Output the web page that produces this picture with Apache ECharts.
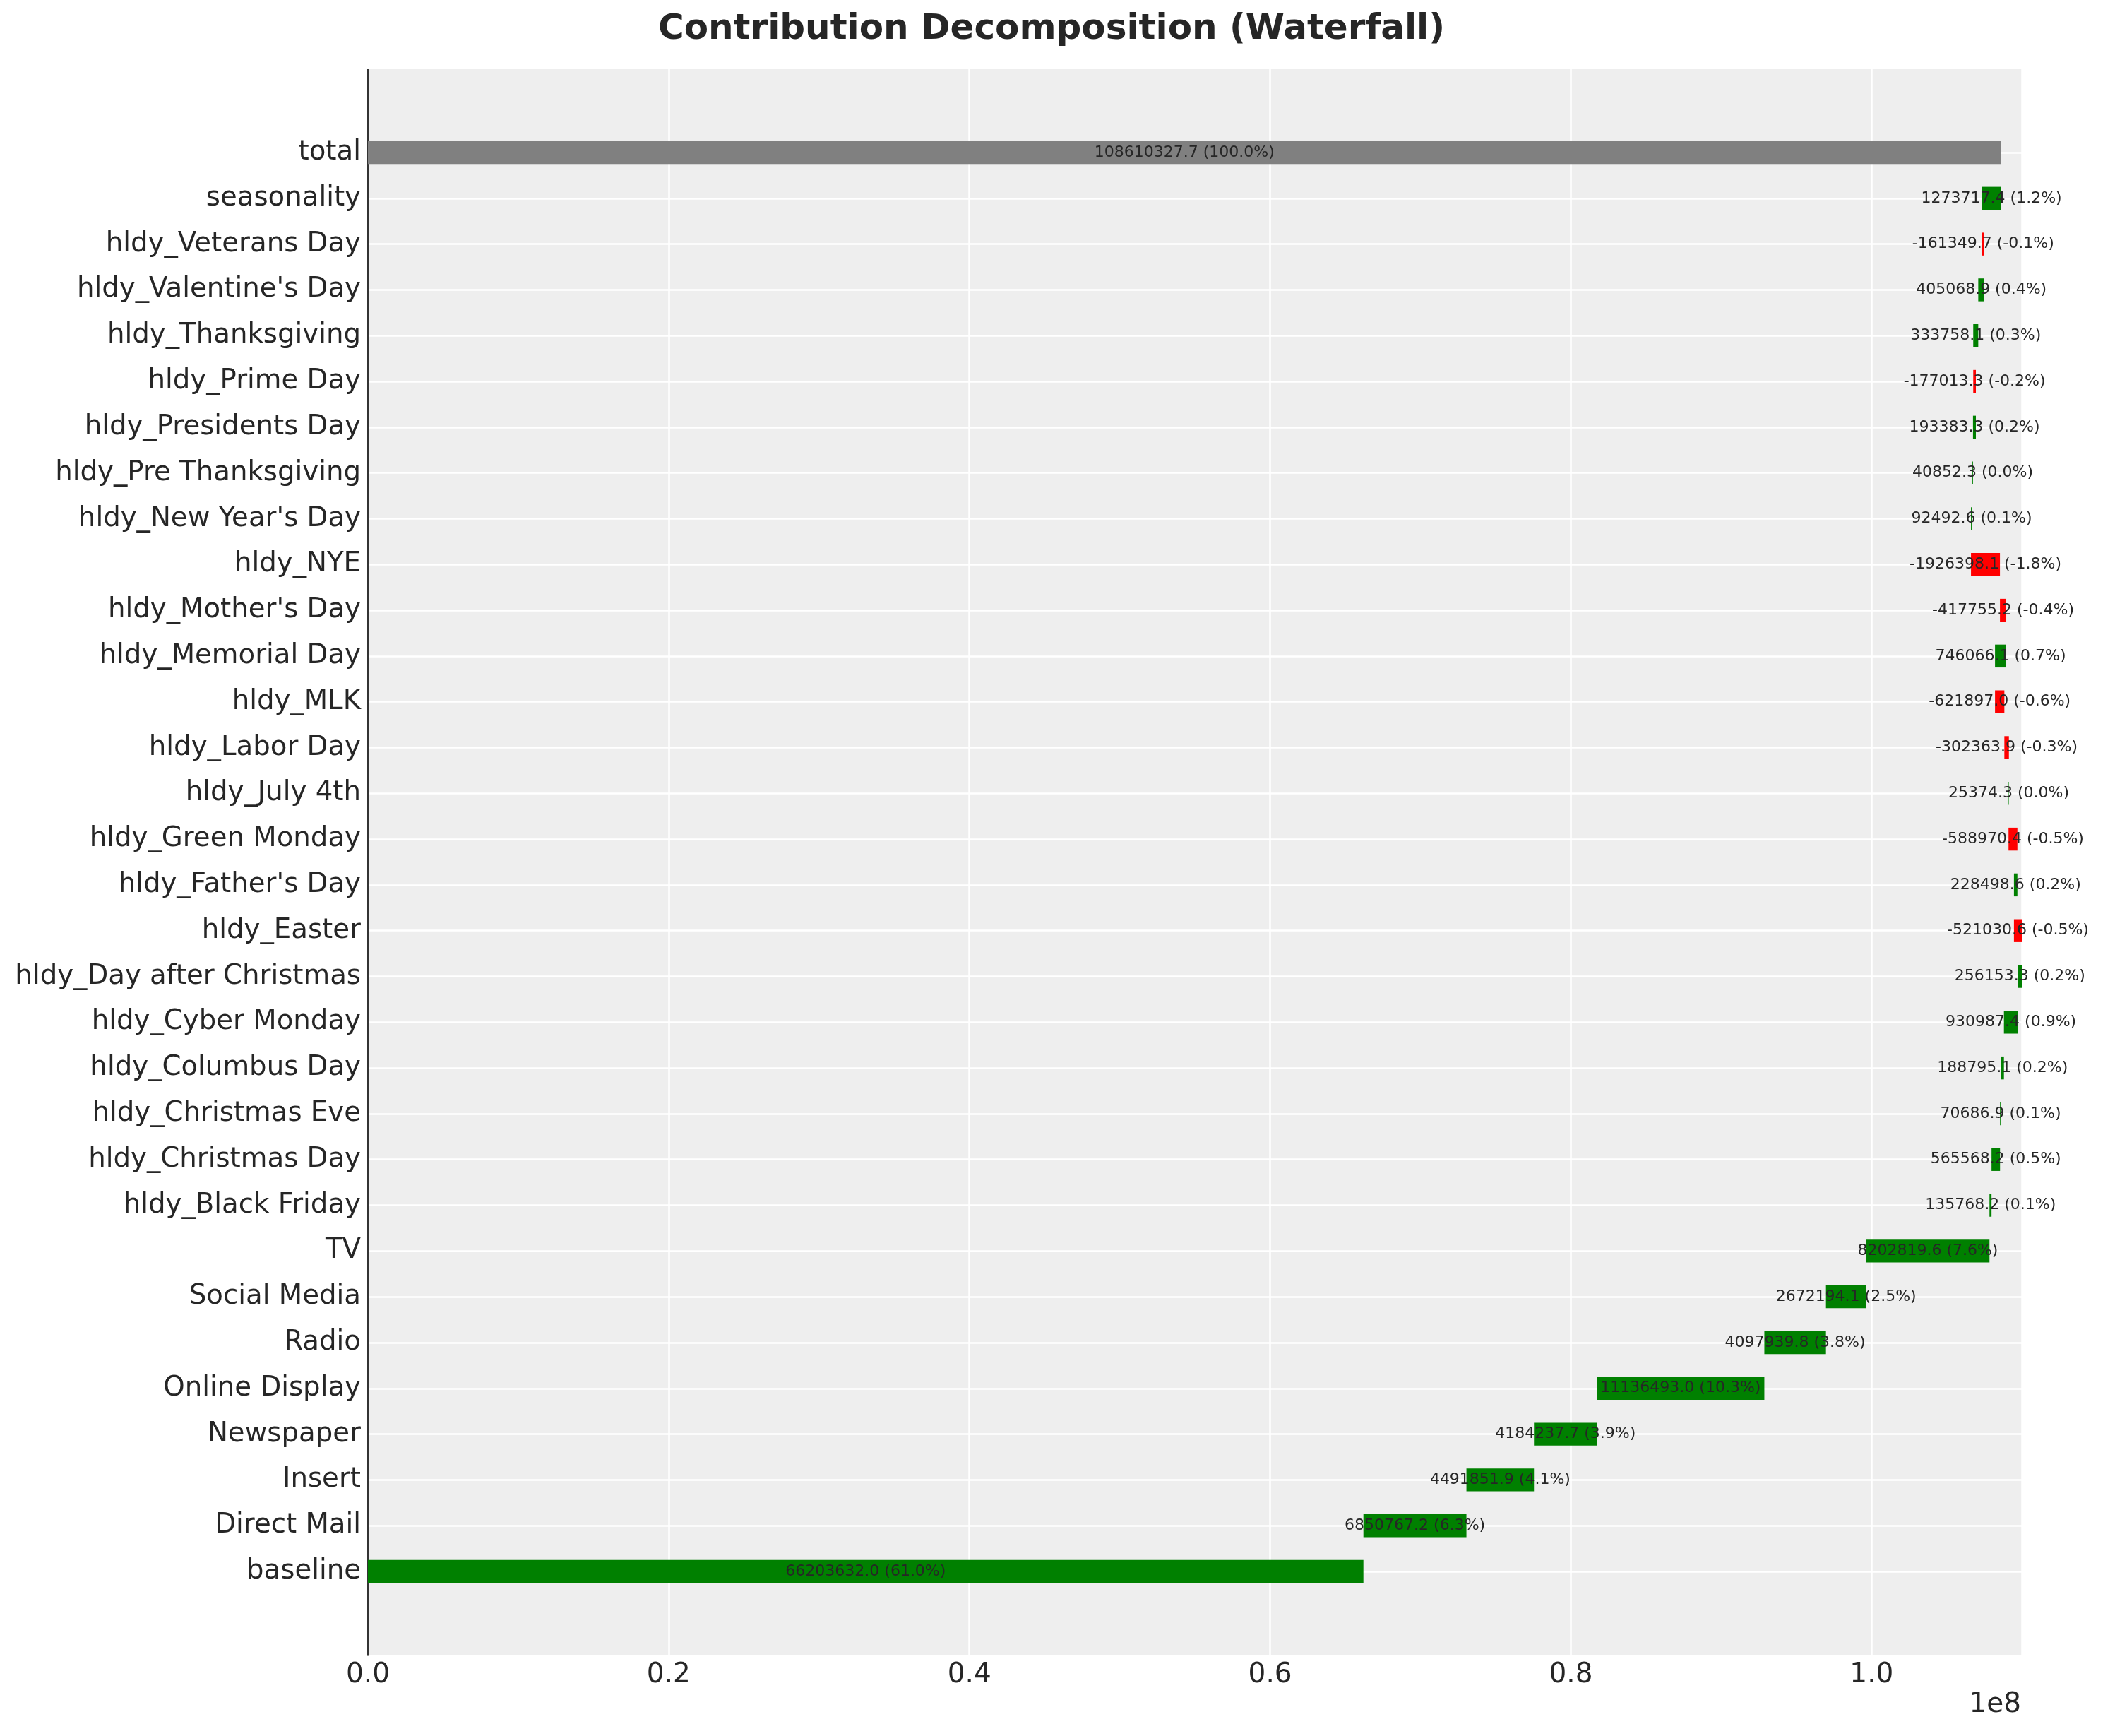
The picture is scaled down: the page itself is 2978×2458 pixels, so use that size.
<!DOCTYPE html>
<html>
<head>
<meta charset="utf-8">
<title>Contribution Decomposition (Waterfall)</title>
<script src="https://cdn.jsdelivr.net/npm/echarts@6/dist/echarts.min.js"></script>
<style>
html, body { margin: 0; padding: 0; background: #fff; }
#chart { width: 2978px; height: 2458px; }
</style>
</head>
<body>
<div id="chart"></div>
<script>
// categories, bottom to top (last one is the total bar)
var categories = ['baseline', 'Direct Mail', 'Insert', 'Newspaper', 'Online Display', 'Radio',
    'Social Media', 'TV', 'hldy_Black Friday', 'hldy_Christmas Day', 'hldy_Christmas Eve',
    'hldy_Columbus Day', 'hldy_Cyber Monday', 'hldy_Day after Christmas', 'hldy_Easter',
    "hldy_Father's Day", 'hldy_Green Monday', 'hldy_July 4th', 'hldy_Labor Day', 'hldy_MLK',
    'hldy_Memorial Day', "hldy_Mother's Day", 'hldy_NYE', "hldy_New Year's Day",
    'hldy_Pre Thanksgiving', 'hldy_Presidents Day', 'hldy_Prime Day', 'hldy_Thanksgiving',
    "hldy_Valentine's Day", 'hldy_Veterans Day', 'seasonality', 'total'];

// contribution of each step (baseline .. seasonality)
var contributions = [66203632.0, 6850767.2, 4491851.9, 4184237.7, 11136493.0, 4097939.8,
    2672194.1, 8202819.6, 135768.2, 565568.2, 70686.9,
    188795.1, 930987.4, 256153.3, -521030.6,
    228498.6, -588970.4, 25374.3, -302363.9, -621897.0,
    746066.1, -417755.2, -1926398.1, 92492.6,
    40852.3, 193383.3, -177013.3, 333758.1,
    405068.9, -161349.7, 1273717.4];

var totalValue = 108610327.7;

// x tick step (axis in units of 1e8)
var xTickStep = 2e7;

//build the invisible base + visible step of the waterfall
var baseData = [];
var stepData = [];
var running = 0;
contributions.forEach(function (v) {
    var next = running + v;
    baseData.push(Math.min(running, next));
    stepData.push({
        value: Math.abs(v),
        raw: v,
        itemStyle: {color: v >= 0 ? '#008000' : '#ff0000'}
    });
    running = next;
});
baseData.push(0);
stepData.push({value: totalValue, raw: totalValue, itemStyle: {color: '#808080'}});

var xMax = 0;
for (var i = 0; i < baseData.length; i++) {
    xMax = Math.max(xMax, baseData[i] + stepData[i].value);
}

var textColor = '#262626';
var font = 'DejaVu Sans';

var myChart = echarts.init(document.getElementById('chart'));
var option = {
    animation: false,
    backgroundColor: '#ffffff',
    textStyle: {fontFamily: font},
    title: {
        text: 'Contribution Decomposition (Waterfall)',
        left: 'center',
        top: 12,
        textStyle: {fontSize: 50, fontWeight: 'bold', color: textColor, fontFamily: font}
    },
    grid: [
        // background panel with x axis
        {left: 521, right: 115, top: 98, bottom: 114, show: true, backgroundColor: '#eeeeee', borderWidth: 0},
        // bar area, category centres from total (top) to baseline (bottom)
        {left: 521, right: 115, top: 216, bottom: 233}
    ],
    xAxis: [
        {
            gridIndex: 0,
            type: 'value',
            min: 0,
            max: xMax,
            interval: xTickStep,
            axisLine: {show: false},
            axisTick: {show: false},
            splitLine: {show: true, lineStyle: {color: '#ffffff', width: 2.5}},
            axisLabel: {
                fontSize: 39,
                color: textColor,
                fontFamily: font,
                margin: 8,
                showMaxLabel: false,
                formatter: function (v) {
                    return (v / 1e8).toFixed(1);
                }
            }
        },
        {gridIndex: 1, type: 'value', min: 0, max: xMax, show: false}
    ],
    yAxis: [
        {
            gridIndex: 0,
            type: 'value',
            min: 0,
            max: 1,
            axisLine: {show: true, lineStyle: {color: '#000000', width: 1.6}},
            axisTick: {show: false},
            axisLabel: {show: false},
            splitLine: {show: false}
        },
        {
            gridIndex: 1,
            type: 'category',
            data: categories,
            boundaryGap: false,
            axisLine: {show: false},
            axisTick: {show: false},
            axisLabel: {fontSize: 38.7, color: textColor, fontFamily: font, margin: 10, interval: 0, padding: [5, 0, 0, 0]},
            splitLine: {show: true, interval: 0, lineStyle: {color: '#ffffff', width: 2.5}}
        }
    ],
    series: [
        {
            type: 'bar',
            xAxisIndex: 1,
            yAxisIndex: 1,
            stack: 'wf',
            barWidth: '50%',
            clip: false,
            silent: true,
            itemStyle: {color: 'transparent'},
            data: baseData
        },
        {
            type: 'bar',
            xAxisIndex: 1,
            yAxisIndex: 1,
            stack: 'wf',
            barWidth: '50%',
            clip: false,
            data: stepData,
            label: {
                show: true,
                position: 'inside',
                fontSize: 22,
                color: textColor,
                fontFamily: font,
                formatter: function (p) {
                    var raw = p.data.raw;
                    return raw.toFixed(1) + ' (' + (raw / totalValue * 100).toFixed(1) + '%)';
                }
            }
        }
    ],
    graphic: [
        {
            type: 'text',
            right: 116,
            top: 2394,
            style: {text: '1e8', fontSize: 39, fill: textColor, fontFamily: font}
        }
    ]
};
myChart.setOption(option);
</script>
</body>
</html>
